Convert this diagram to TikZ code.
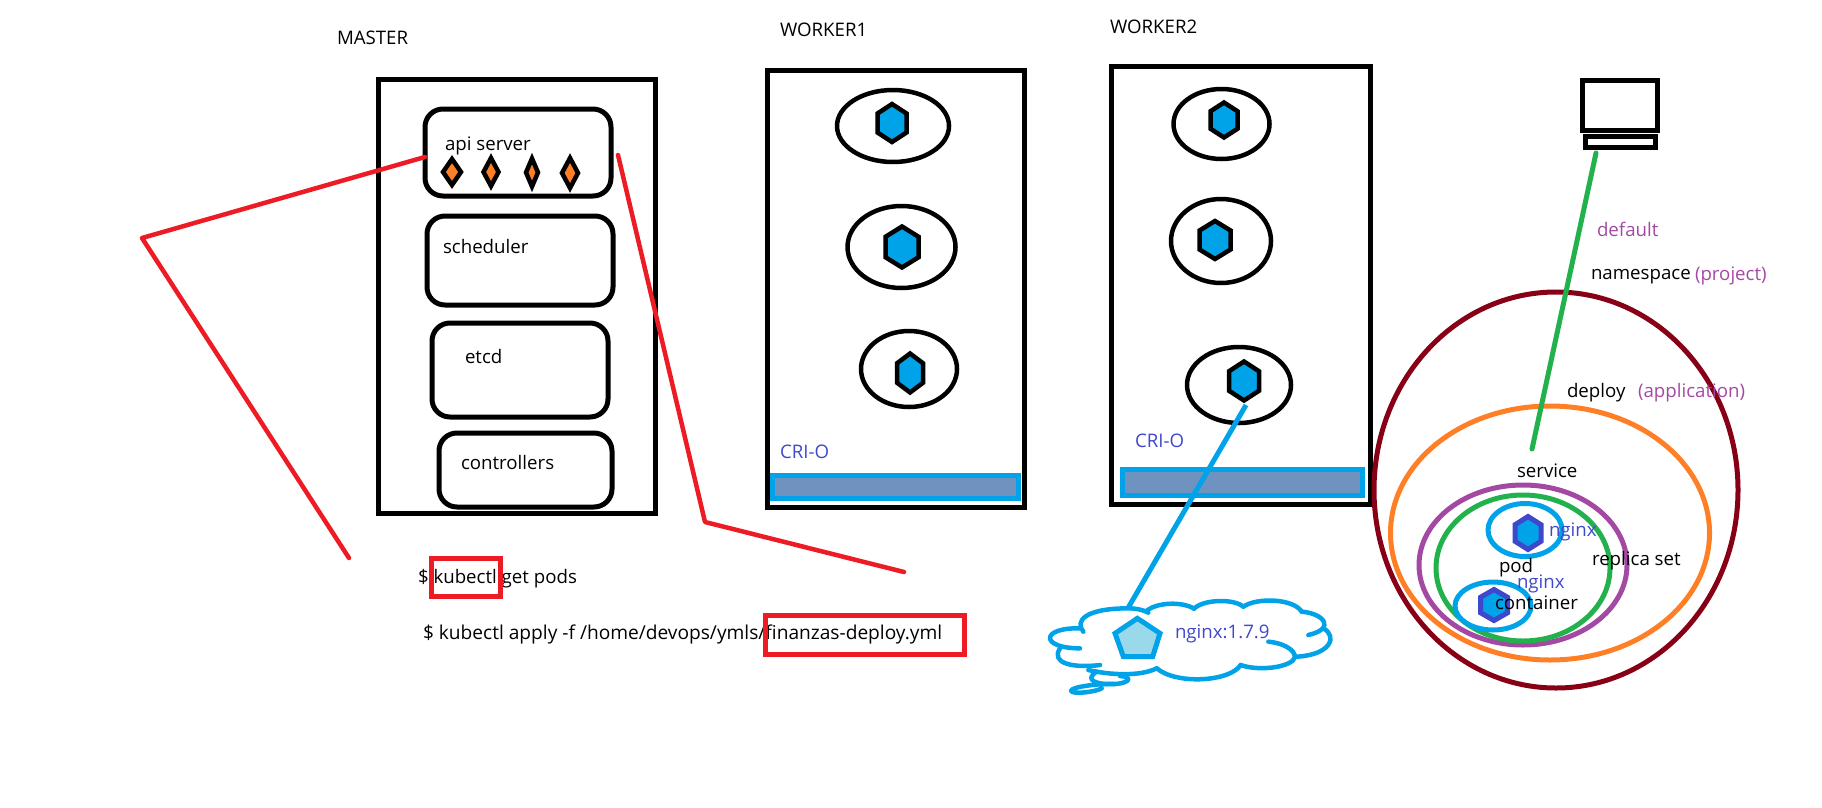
\documentclass[tikz,border=0pt]{standalone}
\usepackage{fontspec}
\setmainfont{Open Sans}
\usetikzlibrary{shapes.geometric}
\definecolor{pblue}{HTML}{00A2E8}
\definecolor{pindigo}{HTML}{3F48CC}
\definecolor{pred}{HTML}{ED1C24}
\definecolor{pgreen}{HTML}{22B14C}
\definecolor{porange}{HTML}{FF7F27}
\definecolor{ppurple}{HTML}{A349A4}
\definecolor{pdark}{HTML}{880015}
\definecolor{pbar}{HTML}{7092BE}
\definecolor{ppale}{HTML}{99D9EA}
\def\pu{0.75pt}
\tikzset{
  lbl/.style={anchor=base west,inner sep=0pt,outer sep=0pt,font=\fontsize{14pt}{16pt}\selectfont,text=black},
  lblblue/.style={lbl,text=pindigo},
  lblpurple/.style={lbl,text=ppurple},
  hostbox/.style={draw=black,line width=5*\pu,rectangle,inner sep=0pt,outer sep=0pt},
  compbox/.style={draw=black,line width=5*\pu,rectangle,rounded corners=18*\pu,inner sep=0pt,outer sep=0pt},
  barbox/.style={draw=pblue,fill=pbar,line width=5*\pu,rectangle,inner sep=0pt,outer sep=0pt},
  podring/.style={draw=black,line width=4.5*\pu,ellipse,inner sep=0pt,outer sep=0pt},
  setring/.style={ellipse,inner sep=0pt,outer sep=0pt,line width=5*\pu},
  hexblack/.style={draw=black,fill=pblue,line width=4.5*\pu,line join=miter},
  hexindigo/.style={draw=pindigo,fill=pblue,line width=5*\pu,line join=miter},
  gem/.style={draw=black,fill=porange,line width=4.5*\pu,line join=miter},
  redline/.style={draw=pred,line width=4.5*\pu,line cap=round,line join=round},
  redbox/.style={draw=pred,line width=5*\pu,rectangle,inner sep=0pt,outer sep=0pt},
  cloudline/.style={draw=pblue,line width=4.5*\pu,line cap=round,line join=round},
}
\newcommand{\hexat}[5]{\draw[#1] (#2,{#3-#5/2}) -- ({#2+#4/2},{#3-#5/4}) -- ({#2+#4/2},{#3+#5/4}) -- (#2,{#3+#5/2}) -- ({#2-#4/2},{#3+#5/4}) -- ({#2-#4/2},{#3-#5/4}) -- cycle;}
\newcommand{\gemat}[4]{\draw[gem] (#1,{#2-#4/2}) -- ({#1+#3/2},#2) -- (#1,{#2+#4/2}) -- ({#1-#3/2},#2) -- cycle;}
\begin{document}
\begin{tikzpicture}[x=0.75pt,y=-0.75pt]
\useasboundingbox (0,0) rectangle (1822,807);
% master
\node[hostbox,minimum width=277*\pu,minimum height=434*\pu] (master) at (517,296) {};
\node[compbox,minimum width=186*\pu,minimum height=87*\pu] (api) at (518,152.5) {};
\node[compbox,minimum width=186*\pu,minimum height=89*\pu] (sched) at (520,260.5) {};
\node[compbox,minimum width=176*\pu,minimum height=94*\pu] (etcdbox) at (520,370) {};
\node[compbox,minimum width=173*\pu,minimum height=74*\pu] (ctrlbox) at (525.5,470) {};
\node[lbl] (tmaster) at (337,44) {MASTER};
\node[lbl] (tapi) at (445,150) {api server};
\node[lbl] (tsched) at (443,253) {scheduler};
\node[lbl] (tetcd) at (465,363) {etcd};
\node[lbl] (tctrl) at (461,469) {controllers};
\gemat{452}{172}{18}{26}
\gemat{491}{172}{15}{28}
\gemat{532}{172.5}{12}{28}
\gemat{570}{173}{16}{30}
% worker 1
\node[hostbox,minimum width=257*\pu,minimum height=437*\pu] (w1) at (895.5,288.5) {};
\node[lbl] (tw1) at (780,36) {WORKER1};
\node[podring,minimum width=112*\pu,minimum height=72*\pu] (p11) at (893,126) {};
\node[podring,minimum width=108*\pu,minimum height=82*\pu] (p12) at (901.5,247) {};
\node[podring,minimum width=96*\pu,minimum height=76*\pu] (p13) at (909,369) {};
\hexat{hexblack}{892}{123}{29}{38}
\hexat{hexblack}{902}{247}{33}{41}
\hexat{hexblack}{910}{373}{26}{39}
\node[barbox,minimum width=246*\pu,minimum height=23*\pu] (b1) at (895,486.5) {};
\node[lblblue] (tc1) at (780,458) {CRI-O};
% worker 2
\node[hostbox,minimum width=259*\pu,minimum height=438*\pu] (w2) at (1240.5,285) {};
\node[lbl] (tw2) at (1110,33) {WORKER2};
\node[podring,minimum width=96*\pu,minimum height=70*\pu] (p21) at (1221.5,124) {};
\node[podring,minimum width=100*\pu,minimum height=84*\pu] (p22) at (1221,241) {};
\node[podring,minimum width=104*\pu,minimum height=76*\pu] (p23) at (1239,385) {};
\hexat{hexblack}{1224}{120}{27}{35}
\hexat{hexblack}{1215}{240}{31}{38}
\hexat{hexblack}{1244}{381}{30}{39}
\node[barbox,minimum width=240*\pu,minimum height=26*\pu] (b2) at (1242,482) {};
\node[lblblue] (tc2) at (1135,447) {CRI-O};
% commands
\node[lbl] (cmd1) at (418,583) {\$ kubectl get pods};
\node[lbl] (cmd2) at (423,639) {\fontsize{14.35pt}{16pt}\selectfont \$ kubectl apply -f /home/devops/ymls/finanzas-deploy.yml};
\node[redbox,minimum width=69*\pu,minimum height=38*\pu] (hl1) at (465.5,577) {};
\node[redbox,minimum width=199*\pu,minimum height=39*\pu] (hl2) at (864.5,634.5) {};
% red connectors
\coordinate (ra) at (425,157);
\coordinate (rb) at (142,238);
\coordinate (rc) at (349,558);
\coordinate (rd) at (618,155);
\coordinate (re) at (705,522);
\coordinate (rf) at (904,572);
\draw[redline] (ra) -- (rb) -- (rc);
\draw[redline] (rd) -- (re) -- (rf);
% cloud
\begin{scope}[shift={(1000,540)},x=0.25pt,y=-0.25pt]
\draw[cloudline] (250,275) .. controls (225,245) and (250,205) .. (385,205) .. controls (410,205) and (430,210) .. (445,218);
\draw[cloudline] (438,214) .. controls (470,185) and (550,185) .. (582,206);
\draw[cloudline] (582,206) .. controls (610,178) and (700,175) .. (730,200);
\draw[cloudline] (730,200) .. controls (770,172) and (880,175) .. (905,215);
\draw[cloudline] (905,215) .. controls (970,220) and (1010,265) .. (925,285);
\draw[cloudline] (970,265) .. controls (1015,290) and (990,345) .. (890,350);
\draw[cloudline] (805,305) .. controls (860,310) and (900,340) .. (878,362) .. controls (850,385) and (770,392) .. (722,375);
\draw[cloudline] (722,375) .. controls (690,425) and (530,435) .. (470,385);
\draw[cloudline] (470,385) .. controls (420,410) and (330,405) .. (265,390);
\draw[cloudline] (300,375) .. controls (220,385) and (150,370) .. (180,325);
\draw[cloudline] (240,325) .. controls (120,325) and (120,262) .. (240,265);
\draw[cloudline] (290,395) .. controls (250,420) and (290,435) .. (345,432) .. controls (395,428) and (395,410) .. (360,408);
\draw[cloudline] (345,432) .. controls (300,430) and (215,440) .. (213,452) .. controls (215,465) and (290,455) .. (305,445);
\draw[draw=pblue,fill=ppale,line width=5*\pu,line join=miter] (412,235) -- (480,280) -- (458,350) -- (370,350) -- (345,280) -- cycle;
\end{scope}
\node[lblblue] (tng) at (1175,638) {nginx:1.7.9};
\coordinate (ba) at (1246,405);
\coordinate (bb) at (1128,608);
\draw[draw=pblue,line width=5*\pu] (ba) -- (bb);
% computer
\node[draw=black,line width=5*\pu,minimum width=75*\pu,minimum height=50*\pu,inner sep=0pt,outer sep=0pt] (screen) at (1619.5,105) {};
\node[draw=black,line width=5*\pu,minimum width=70*\pu,minimum height=11*\pu,inner sep=0pt,outer sep=0pt] (base) at (1620,141.5) {};
% nested sets
\node[setring,draw=pdark,minimum width=364*\pu,minimum height=396*\pu] (ns) at (1556,490) {};
\node[setring,draw=porange,minimum width=319*\pu,minimum height=254*\pu] (dep) at (1550,533) {};
\node[setring,draw=ppurple,minimum width=208*\pu,minimum height=160*\pu] (rs) at (1523,565) {};
\node[setring,draw=pgreen,minimum width=174*\pu,minimum height=146*\pu] (pod) at (1523,568) {};
\node[setring,draw=pblue,minimum width=74*\pu,minimum height=53*\pu] (c1) at (1525,530) {};
\node[setring,draw=pblue,minimum width=76*\pu,minimum height=48*\pu] (c2) at (1493,606) {};
\hexat{hexindigo}{1528}{533}{26}{33}
\hexat{hexindigo}{1494}{605}{27}{31}
\coordinate (ga) at (1596,153);
\coordinate (gb) at (1532,449);
\draw[draw=pgreen,line width=5*\pu,line cap=round] (ga) -- (gb);
\node[lblpurple] (tdef) at (1597,236) {default};
\node[lbl] (tns) at (1591,279) {namespace};
\node[lblpurple] (tproj) at (1695,280) {(project)};
\node[lbl] (tdep) at (1567,397) {deploy};
\node[lblpurple] (tapp) at (1638,397) {(application)};
\node[lbl] (tsvc) at (1517,477) {service};
\node[lblblue] (tn1) at (1549,536) {nginx};
\node[lbl] (tpod) at (1499,572) {pod};
\node[lbl] (trs) at (1592,565) {replica set};
\node[lblblue] (tn2) at (1517,588) {nginx};
\node[lbl] (tcont) at (1495,609) {container};
\end{tikzpicture}
\end{document}
